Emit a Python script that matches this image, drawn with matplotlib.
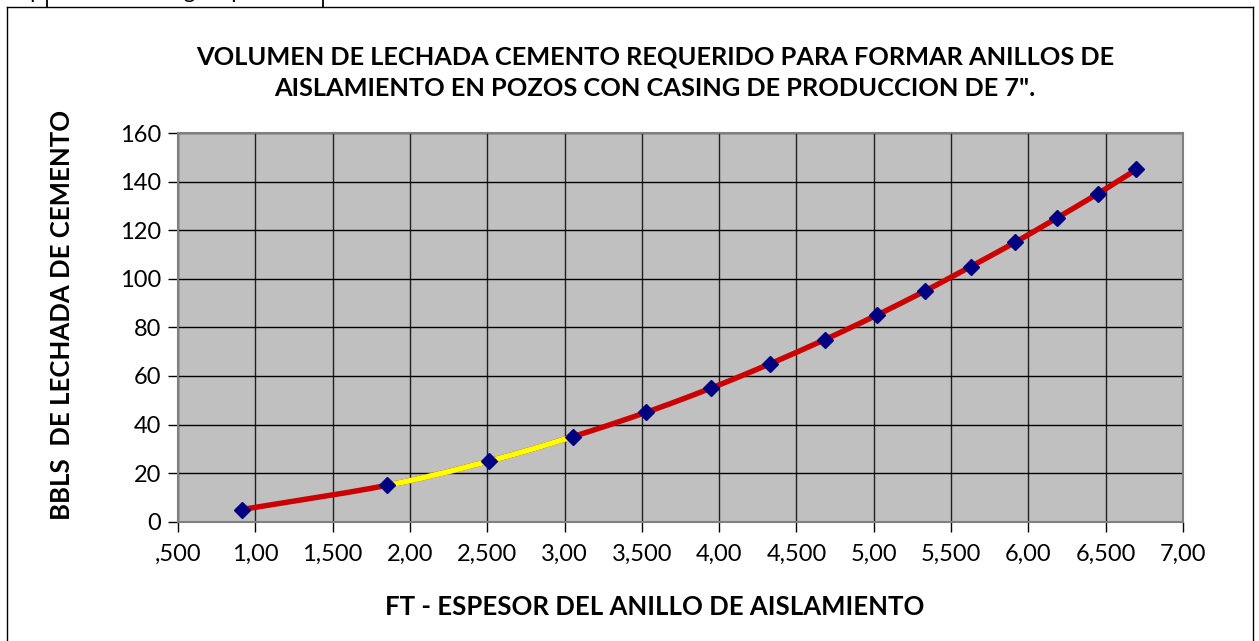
import numpy as np
import matplotlib
matplotlib.use("Agg")
import matplotlib.pyplot as plt
from matplotlib.lines import Line2D

# espesor del anillo (ft) vs volumen de lechada (bbls)
espesor_ft = [0.912, 1.854, 2.514, 3.053, 3.527, 3.948, 4.329, 4.685,
              5.019, 5.332, 5.627, 5.914, 6.184, 6.449, 6.699]
volumen_bbls = [5, 15, 25, 35, 45, 55, 65, 75, 85, 95, 105, 115, 125, 135, 145]
tramo_amarillo = (1, 3)  # indices of the points bounding the yellow segment

x_ticks = [0.5, 1.0, 1.5, 2.0, 2.5, 3.0, 3.5, 4.0, 4.5, 5.0, 5.5, 6.0, 6.5, 7.0]
x_tick_labels = [",500", "1,00", "1,500", "2,00", "2,500", "3,00", "3,500",
                 "4,00", "4,500", "5,00", "5,500", "6,00", "6,500", "7,00"]
y_ticks = [0, 20, 40, 60, 80, 100, 120, 140, 160]

titulo = ("VOLUMEN DE LECHADA CEMENTO REQUERIDO PARA FORMAR ANILLOS DE\n"
          "AISLAMIENTO EN POZOS CON CASING DE PRODUCCION DE 7\".")
x_label = "FT - ESPESOR DEL ANILLO DE AISLAMIENTO"
y_label = "BBLS  DE LECHADA DE CEMENTO"

plt.rcParams["font.family"] = ["Lato", "DejaVu Sans"]


def smooth(xs, ys, n=30):
    # catmull-rom like Excel "smoothed line", drawing only
    xs = np.asarray(xs, float)
    ys = np.asarray(ys, float)
    px = np.concatenate([[2 * xs[0] - xs[1]], xs, [2 * xs[-1] - xs[-2]]])
    py = np.concatenate([[2 * ys[0] - ys[1]], ys, [2 * ys[-1] - ys[-2]]])
    out_x, out_y, seg = [], [], []
    t = np.linspace(0, 1, n)
    for i in range(1, len(px) - 2):
        for arr, p in ((out_x, px), (out_y, py)):
            p0, p1, p2, p3 = p[i - 1], p[i], p[i + 1], p[i + 2]
            arr.append(0.5 * (2 * p1 + (-p0 + p2) * t
                              + (2 * p0 - 5 * p1 + 4 * p2 - p3) * t ** 2
                              + (-p0 + 3 * p1 - 3 * p2 + p3) * t ** 3))
        seg.append(np.full(n, i - 1))
    return np.concatenate(out_x), np.concatenate(out_y), np.concatenate(seg)


fig = plt.figure(figsize=(12.59, 6.41), dpi=100)
ax = fig.add_axes([0.1414, 0.1861, 0.7982, 0.6064])

ax.set_facecolor("#C0C0C0")
ax.set_xlim(0.5, 7.0)
ax.set_ylim(0, 160)
ax.set_xticks(x_ticks)
ax.set_xticklabels(x_tick_labels)
ax.set_yticks(y_ticks)
ax.xaxis.grid(True, color="#202020", linewidth=1.0)
ax.yaxis.grid(True, color="#000000", linewidth=1.0)
ax.set_axisbelow(True)
for side in ax.spines.values():
    side.set_color("#808080")
    side.set_linewidth(1.5)
ax.tick_params(axis="both", direction="out", length=7, width=1,
               color="#000000", labelsize=17, pad=9)
ax.tick_params(axis="y", pad=5)

sx, sy, seg = smooth(espesor_ft, volumen_bbls)
ax.plot(sx, sy, color="#CC0000", linewidth=3.9, solid_capstyle="round", zorder=3)
a, b = tramo_amarillo
mask = (seg >= a) & (seg < b)
ax.plot(sx[mask], sy[mask], color="#FFFF00", linewidth=3.9, zorder=4)
ax.plot(espesor_ft, volumen_bbls, linestyle="none", marker="D",
        markersize=8.5, color="#000080", zorder=5)

fig.text(0.5203, 0.887, titulo, ha="center", va="center",
         fontsize=18.3, fontweight="bold", linespacing=1.45)
fig.text(0.5203, 0.053, x_label, ha="center", va="center",
         fontsize=18.5, fontweight="bold")
fig.text(0.049, 0.508, y_label, ha="center", va="center",
         rotation=90, fontsize=18.5, fontweight="bold")

# outer chart frame
frame_kw = dict(color="#000000", linewidth=1.0, transform=fig.transFigure)
fig.add_artist(Line2D([7 / 1259, 7 / 1259], [0, 1 - 7 / 641], **frame_kw))
fig.add_artist(Line2D([7 / 1259, 1253 / 1259], [1 - 7 / 641, 1 - 7 / 641], **frame_kw))
fig.add_artist(Line2D([1253 / 1259, 1253 / 1259], [0, 1 - 7 / 641], **frame_kw))

# cut-off text from the page above the chart (only its lower edge shows)
fig.text(0.0, 1 + 2 / 641, "empozos con casing de produccion de 7\"",
         ha="left", va="baseline", fontsize=16)
fig.add_artist(Line2D([47 / 1259, 47 / 1259], [1 - 7 / 641, 1], color="#000000",
                      linewidth=1.3, transform=fig.transFigure, zorder=10))
fig.add_artist(Line2D([323 / 1259, 323 / 1259], [1 - 7 / 641, 1], color="#000000",
                      linewidth=1.3, transform=fig.transFigure, zorder=10))

fig.savefig("out.png", dpi=100)
